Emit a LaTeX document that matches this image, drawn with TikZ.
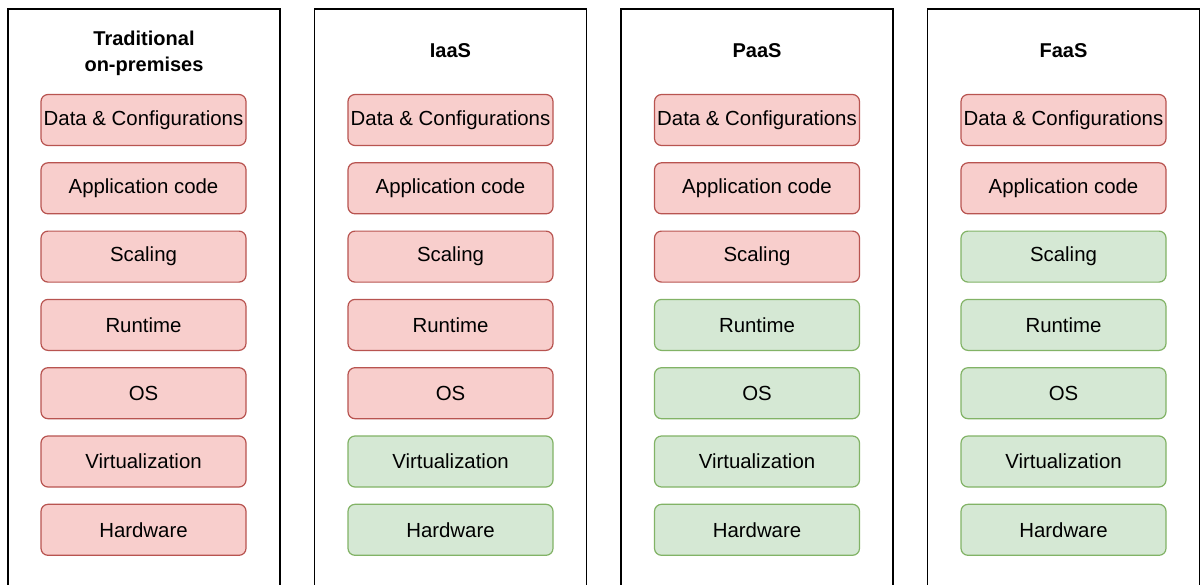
\documentclass[tikz,border=0pt]{standalone}
\usepackage{fontspec}
\setmainfont{Liberation Sans}
\definecolor{redfill}{HTML}{F8CECC}
\definecolor{redline}{HTML}{B85450}
\definecolor{greenfill}{HTML}{D5E8D4}
\definecolor{greenline}{HTML}{82B366}
\tikzset{
  panel/.style={draw=black, line width=1.6pt, fill=white},
  layer/.style={rounded corners=7pt, line width=1.2pt, minimum width=205pt, minimum height=51pt, inner sep=0pt,
    font=\fontsize{20.4}{24}\selectfont},
  onprem/.style={layer, fill=redfill, draw=redline},
  managed/.style={layer, fill=greenfill, draw=greenline},
  paneltitle/.style={font=\fontsize{20}{26}\selectfont\bfseries, align=center, inner sep=0pt}
}
\begin{document}
\begin{tikzpicture}[x=1pt,y=-1pt]
\useasboundingbox (0,0) rectangle (1201,584);
\clip (0,0) rectangle (1201,584);
\fill[white] (0,0) rectangle (1201,584);
% panels
\draw[panel] (8,9) rectangle (280,600);
\draw[panel] (314.5,9) rectangle (586.5,600);
\draw[panel] (621,9) rectangle (893,600);
\draw[panel] (927.5,9) rectangle (1199.5,600);
% titles
\node[paneltitle] (t1) at (144,53) {Traditional\\on-premises};
\node[paneltitle] (t2) at (450.5,51) {IaaS};
\node[paneltitle] (t3) at (757,51) {PaaS};
\node[paneltitle] (t4) at (1063.5,51) {FaaS};
% layers
\foreach \col/\cx/\n in {1/143.5/7, 2/450.5/5, 3/757/3, 4/1063.5/2}{
  \foreach \lbl [count=\r] in {Data \& Configurations, Application code, Scaling, Runtime, OS, Virtualization, Hardware}{
    \pgfmathtruncatemacro{\isown}{\r<=\n ? 1 : 0}
    \ifnum\isown=1
      \node[onprem] (c\col r\r) at (\cx, {120+68.3*(\r-1)}) {\lbl};
    \else
      \node[managed] (c\col r\r) at (\cx, {120+68.3*(\r-1)}) {\lbl};
    \fi
  }
}
\end{tikzpicture}
\end{document}
